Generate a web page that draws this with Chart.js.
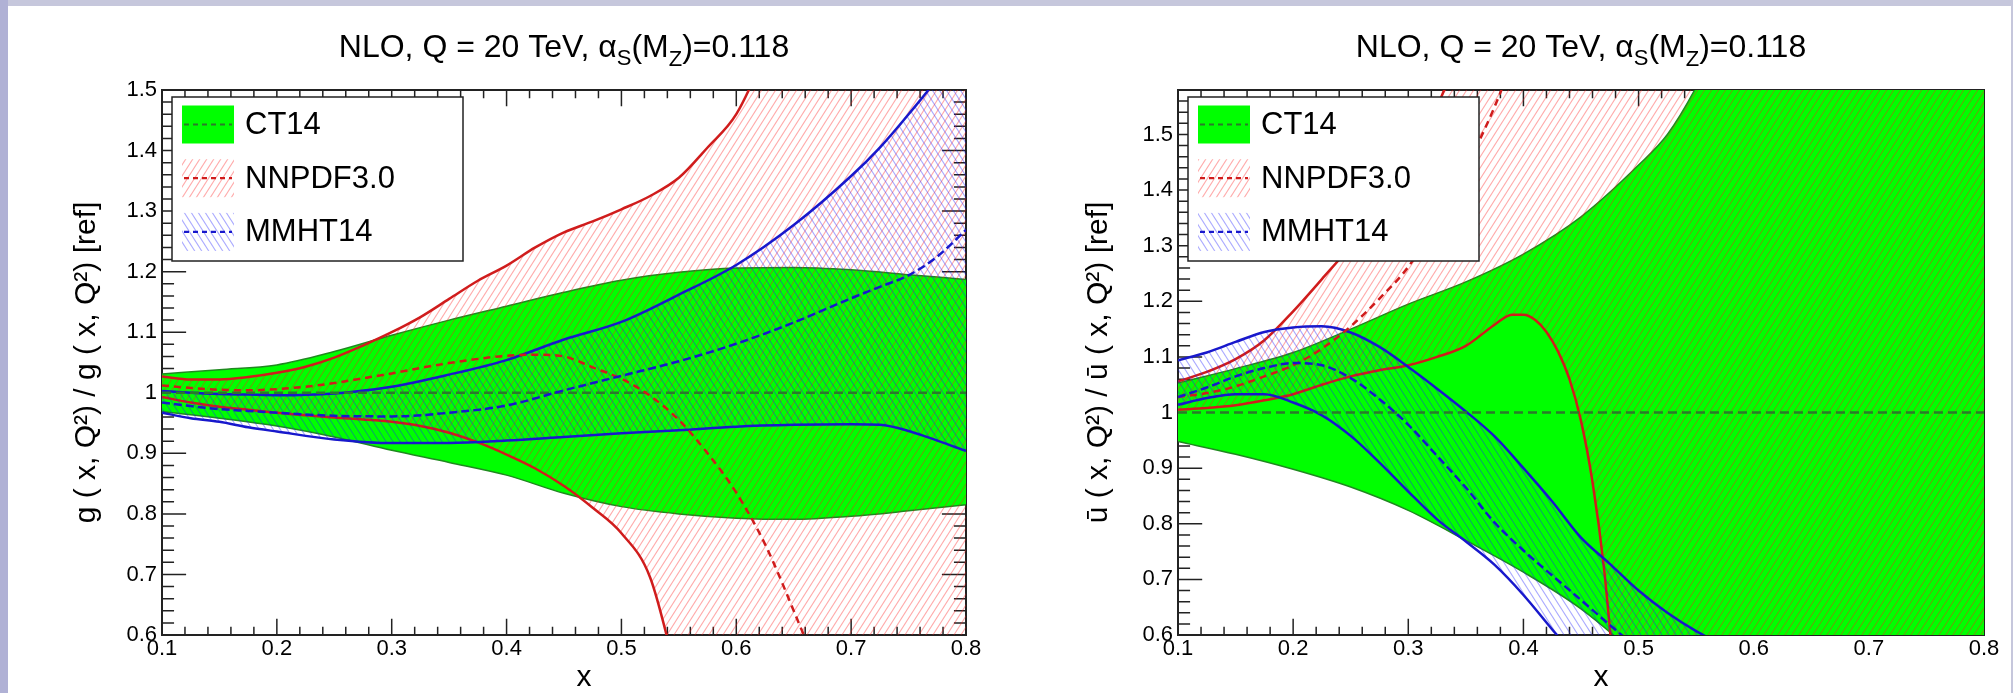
<!DOCTYPE html>
<html>
<head>
<meta charset="utf-8">
<script src="https://cdn.jsdelivr.net/npm/chart.js@4.4.1/dist/chart.umd.min.js"></script>
<style>
  html, body { margin: 0; padding: 0; background: #fff; }
  body { width: 2013px; height: 693px; position: relative; overflow: hidden; }
  .panel { position: absolute; top: 0; }
  .edge { position: absolute; }
</style>
</head>
<body>
<canvas id="gluon" class="panel" style="left:0px" width="1006" height="693"></canvas>
<canvas id="ubar" class="panel" style="left:1006px" width="1007" height="693"></canvas>
<div class="edge" style="left:0;top:0;width:2013px;height:6px;background:#c6c7dc"></div>
<div class="edge" style="left:0;top:0;width:8px;height:693px;background:#b0b1d5"></div>
<div class="edge" style="left:2011px;top:0;width:2px;height:693px;background:#c6c7dc"></div>
<script>
// ---- values ----
const pdfNames = ['CT14', 'NNPDF3.0', 'MMHT14'];
const xTicks = [0.1, 0.2, 0.3, 0.4, 0.5, 0.6, 0.7, 0.8];
const gYTicks = [0.6, 0.7, 0.8, 0.9, 1.0, 1.1, 1.2, 1.3, 1.4, 1.5];
const uYTicks = [0.6, 0.7, 0.8, 0.9, 1.0, 1.1, 1.2, 1.3, 1.4, 1.5];

// gluon: g(x,Q2)/g(x,Q2)[ref]
const gCtX   = [0.1, 0.15, 0.2, 0.25, 0.3, 0.35, 0.4, 0.45, 0.5, 0.55, 0.6, 0.65, 0.7, 0.75, 0.8];
const gCtUp  = [1.031, 1.038, 1.046, 1.068, 1.095, 1.120, 1.143, 1.166, 1.186, 1.199, 1.206, 1.207, 1.203, 1.195, 1.187];
const gCtLo  = [0.969, 0.958, 0.945, 0.927, 0.905, 0.885, 0.864, 0.834, 0.812, 0.800, 0.793, 0.791, 0.796, 0.805, 0.815];
const gCtMid = [1, 1, 1, 1, 1, 1, 1, 1, 1, 1, 1, 1, 1, 1, 1];

const gNnX   = [0.1, 0.125, 0.15, 0.175, 0.2, 0.225, 0.25, 0.275, 0.3, 0.325, 0.35, 0.375, 0.4, 0.425, 0.45, 0.475, 0.5, 0.525, 0.55, 0.575, 0.6, 0.625, 0.65, 0.7, 0.75, 0.8];
const gNnUp  = [1.027, 1.022, 1.022, 1.026, 1.033, 1.043, 1.058, 1.078, 1.100, 1.125, 1.155, 1.185, 1.210, 1.240, 1.265, 1.283, 1.303, 1.325, 1.355, 1.405, 1.460, 1.560, 1.680, 1.950, 2.300, 2.700];
const gNnLo  = [0.993, 0.984, 0.977, 0.972, 0.967, 0.963, 0.959, 0.956, 0.952, 0.945, 0.934, 0.918, 0.898, 0.875, 0.846, 0.810, 0.768, 0.695, 0.520, 0.350, 0.150, 0.000, -0.200, -0.500, -0.900, -1.300];
const gNnMid = [1.012, 1.008, 1.005, 1.004, 1.006, 1.010, 1.016, 1.024, 1.032, 1.041, 1.049, 1.056, 1.061, 1.063, 1.060, 1.042, 1.023, 0.995, 0.955, 0.900, 0.835, 0.750, 0.640, 0.400, 0.100, -0.250];

const gMmX   = [0.1, 0.125, 0.15, 0.175, 0.2, 0.25, 0.3, 0.35, 0.4, 0.45, 0.5, 0.55, 0.6, 0.65, 0.7, 0.725, 0.75, 0.775, 0.8];
const gMmUp  = [1.003, 1.000, 0.998, 0.997, 0.996, 0.999, 1.010, 1.030, 1.054, 1.088, 1.117, 1.162, 1.211, 1.277, 1.358, 1.405, 1.460, 1.520, 1.600];
const gMmLo  = [0.967, 0.958, 0.952, 0.943, 0.936, 0.923, 0.917, 0.917, 0.921, 0.927, 0.933, 0.938, 0.944, 0.947, 0.948, 0.947, 0.937, 0.921, 0.904];
const gMmMid = [0.984, 0.978, 0.973, 0.970, 0.967, 0.962, 0.961, 0.967, 0.979, 1.004, 1.028, 1.052, 1.081, 1.116, 1.156, 1.175, 1.194, 1.225, 1.269];

// anti-up quark: ubar(x,Q2)/ubar(x,Q2)[ref]
const uCtX   = [0.1, 0.15, 0.2, 0.25, 0.3, 0.35, 0.4, 0.45, 0.5, 0.525, 0.55, 0.6, 0.7, 0.8];
const uCtUp  = [1.053, 1.079, 1.108, 1.150, 1.195, 1.235, 1.285, 1.352, 1.445, 1.500, 1.585, 1.800, 2.400, 3.200];
const uCtLo  = [0.948, 0.925, 0.898, 0.866, 0.824, 0.770, 0.713, 0.647, 0.560, 0.510, 0.450, 0.300, -0.100, -0.500];
const uCtMid = [1, 1, 1, 1, 1, 1, 1, 1, 1, 1, 1, 1, 1, 1];

const uNnX   = [0.1, 0.125, 0.15, 0.175, 0.2, 0.225, 0.25, 0.275, 0.3, 0.325, 0.35, 0.375, 0.39, 0.4, 0.41, 0.42, 0.43, 0.44, 0.45, 0.46, 0.47, 0.48, 0.5, 0.6, 0.7, 0.8];
const uNnUp  = [1.056, 1.073, 1.096, 1.130, 1.182, 1.240, 1.300, 1.370, 1.450, 1.550, 1.680, 1.820, 1.920, 2.000, 2.080, 2.160, 2.240, 2.320, 2.400, 2.480, 2.560, 2.640, 2.800, 3.600, 4.400, 5.200];
const uNnLo  = [1.005, 1.008, 1.013, 1.022, 1.033, 1.050, 1.065, 1.076, 1.085, 1.100, 1.120, 1.158, 1.176, 1.176, 1.167, 1.145, 1.110, 1.060, 0.985, 0.875, 0.720, 0.500, 0.100, -0.900, -1.600, -2.200];
const uNnMid = [1.028, 1.035, 1.047, 1.065, 1.085, 1.115, 1.155, 1.205, 1.262, 1.345, 1.440, 1.550, 1.630, 1.690, 1.760, 1.830, 1.900, 1.970, 2.040, 2.110, 2.180, 2.250, 2.400, 3.200, 4.000, 4.800];

const uMmX   = [0.1, 0.125, 0.15, 0.175, 0.2, 0.225, 0.25, 0.275, 0.3, 0.325, 0.35, 0.375, 0.4, 0.425, 0.45, 0.475, 0.5, 0.525, 0.55, 0.575, 0.6, 0.7, 0.8];
const uMmUp  = [1.094, 1.108, 1.127, 1.145, 1.153, 1.155, 1.144, 1.118, 1.082, 1.043, 1.002, 0.957, 0.900, 0.840, 0.775, 0.728, 0.680, 0.640, 0.607, 0.580, 0.555, 0.450, 0.350];
const uMmLo  = [1.014, 1.026, 1.033, 1.033, 1.018, 0.995, 0.958, 0.910, 0.858, 0.808, 0.768, 0.726, 0.672, 0.610, 0.550, 0.490, 0.430, 0.370, 0.310, 0.250, 0.200, 0.000, -0.200];
const uMmMid = [1.028, 1.045, 1.065, 1.080, 1.089, 1.085, 1.062, 1.024, 0.978, 0.922, 0.865, 0.802, 0.752, 0.707, 0.663, 0.618, 0.575, 0.535, 0.495, 0.455, 0.420, 0.300, 0.200];

// ---- styling ----
const FONT = "'Liberation Sans', Arial, Helvetica, sans-serif";
Chart.defaults.font.family = FONT;
Chart.defaults.color = '#000';

const GREEN = '#00ff00', GREEN_EDGE = '#1f8a1f', GREEN_MID = '#2b7a2b';
const RED = '#d01c1c', BLUE = '#1818cc';

function hatch(color, dir) {
    const w = 7, h = 11;
    const c = document.createElement('canvas');
    c.width = w; c.height = h;
    const g = c.getContext('2d');
    g.strokeStyle = color;
    g.lineWidth = 1.1;
    for (let k = -1; k <= 1; k++) {
        g.beginPath();
        if (dir > 0) { g.moveTo(k * w - 1, h + 1.57); g.lineTo((k + 1) * w + 1, -1.57); }
        else { g.moveTo(k * w - 1, -1.57); g.lineTo((k + 1) * w + 1, h + 1.57); }
        g.stroke();
    }
    return g.createPattern(c, 'repeat');
}
const redHatch = hatch('rgba(255,30,30,0.38)', 1);
const blueHatch = hatch('rgba(30,30,255,0.38)', -1);
const legendStyles = [
    { fill: GREEN, line: GREEN_MID, dash: [5, 4] },
    { fill: redHatch, line: RED, dash: [5, 4] },
    { fill: blueHatch, line: BLUE, dash: [5, 4] },
];

const pts = (xs, ys) => xs.map((x, i) => ({ x, y: ys[i] }));

function band(xs, up, lo, edge, width, fillStyle, order) {
    return [
        { data: pts(xs, up), borderColor: edge, borderWidth: width, fill: false, order, clip: 0 },
        { data: pts(xs, lo), borderColor: edge, borderWidth: width, fill: '-1', backgroundColor: fillStyle, order, clip: 0 },
    ];
}
function centre(xs, ys, color, dash, order) {
    return { data: pts(xs, ys), borderColor: color, borderWidth: 2.5, borderDash: dash, fill: false, order, clip: 0 };
}

// frame + inward ROOT-style ticks, drawn under the bands
const rootFrame = {
    id: 'rootFrame',
    beforeDatasetsDraw(chart) {
        const { ctx, chartArea: a, scales: { x, y } } = chart;
        const majX = (a.bottom - a.top) * 0.03, majY = (a.right - a.left) * 0.03;
        ctx.save();
        ctx.strokeStyle = '#222';
        ctx.lineWidth = 1.5;
        ctx.beginPath();
        const nx = Math.round((x.max - x.min) / 0.02);
        for (let i = 0; i <= nx; i++) {
            const v = x.min + i * 0.02;
            const px = x.getPixelForValue(v);
            const len = i % 5 === 0 ? majX : majX / 2;
            ctx.moveTo(px, a.bottom); ctx.lineTo(px, a.bottom - len);
            ctx.moveTo(px, a.top); ctx.lineTo(px, a.top + len);
        }
        const ny = Math.floor((y.max - y.min) / 0.02 + 1e-6);
        for (let i = 0; i <= ny; i++) {
            const v = y.min + i * 0.02;
            const py = y.getPixelForValue(v);
            const len = i % 5 === 0 ? majY : majY / 2;
            ctx.moveTo(a.left, py); ctx.lineTo(a.left + len, py);
            ctx.moveTo(a.right, py); ctx.lineTo(a.right - len, py);
        }
        ctx.stroke();
        ctx.lineWidth = 2;
        ctx.strokeRect(a.left, a.top, a.right - a.left, a.bottom - a.top);
        ctx.restore();
    }
};

// title with sub-scripts, x title, legend box
const rootDecor = {
    id: 'rootDecor',
    afterDraw(chart, args, opts) {
        const { ctx, chartArea: a } = chart;
        ctx.save();
        // title
        const parts = [
            { t: 'NLO, Q = 20 TeV, ', s: 32 },
            { t: '\u03B1', s: 32 },
            { t: 'S', s: 22, dy: 8 },
            { t: '(M', s: 32 },
            { t: 'Z', s: 22, dy: 9 },
            { t: ')=0.118', s: 32 },
        ];
        let total = 0;
        parts.forEach(p => { ctx.font = `${p.s}px ${FONT}`; p.w = ctx.measureText(p.t).width; total += p.w; });
        let tx = (a.left + a.right) / 2 - total / 2;
        ctx.fillStyle = '#000';
        ctx.textAlign = 'left';
        ctx.textBaseline = 'alphabetic';
        parts.forEach(p => { ctx.font = `${p.s}px ${FONT}`; ctx.fillText(p.t, tx, 57 + (p.dy || 0)); tx += p.w; });

        // x axis title
        ctx.font = `30px ${FONT}`;
        ctx.textAlign = 'center';
        ctx.textBaseline = 'middle';
        ctx.fillText('x', (a.left + a.right) / 2 + 20, 678);

        // legend
        const bx = a.left + 10, by = 97, bw = 291, bh = 164;
        ctx.fillStyle = '#fff';
        ctx.fillRect(bx, by, bw, bh);
        ctx.strokeStyle = '#222';
        ctx.lineWidth = 1.5;
        ctx.strokeRect(bx, by, bw, bh);
        pdfNames.forEach((name, i) => {
            const st = legendStyles[i];
            const cy = by + 27.5 + i * 53.7;
            ctx.fillStyle = st.fill;
            ctx.fillRect(bx + 10, cy - 19, 52, 38);
            ctx.beginPath();
            ctx.setLineDash(st.dash);
            ctx.strokeStyle = st.line;
            ctx.lineWidth = 2.2;
            ctx.moveTo(bx + 12, cy); ctx.lineTo(bx + 60, cy);
            ctx.stroke();
            ctx.setLineDash([]);
            ctx.fillStyle = '#000';
            ctx.font = `31px ${FONT}`;
            ctx.textAlign = 'left';
            ctx.textBaseline = 'middle';
            ctx.fillText(name, bx + 73, cy + 1);
        });
        ctx.restore();
    }
};

const fmt = v => String(+(+v).toFixed(2));

function makePanel(id, o) {
    const canvas = document.getElementById(id);
    const W = canvas.width, padL = 50;
    return new Chart(canvas, {
        type: 'line',
        data: {
            datasets: [
                ...band(o.ct.x, o.ct.up, o.ct.lo, GREEN_EDGE, 1.5, GREEN, 9),
                ...band(o.nn.x, o.nn.up, o.nn.lo, RED, 2.5, redHatch, 8),
                ...band(o.mm.x, o.mm.up, o.mm.lo, BLUE, 2.5, blueHatch, 7),
                centre(o.ct.x, o.ct.mid, GREEN_MID, [9, 5], 3),
                centre(o.nn.x, o.nn.mid, RED, [7, 5], 2),
                centre(o.mm.x, o.mm.mid, BLUE, [8, 4], 1),
            ]
        },
        options: {
            responsive: false,
            animation: false,
            devicePixelRatio: 1,
            events: [],
            layout: { padding: { left: padL, right: W - o.frameRight, top: 90, bottom: 0 } },
            elements: {
                point: { radius: 0, hitRadius: 0 },
                line: { cubicInterpolationMode: 'monotone', capBezierPoints: false }
            },
            plugins: { legend: { display: false }, tooltip: { enabled: false } },
            scales: {
                x: {
                    type: 'linear', min: 0.1, max: 0.8,
                    afterBuildTicks: s => { s.ticks = xTicks.map(v => ({ value: v })); },
                    afterFit: s => { s.height = 58; },
                    grid: { display: false, drawTicks: false },
                    border: { display: false },
                    ticks: { padding: 1, maxRotation: 0, autoSkip: false, font: { size: 22 }, color: '#000', callback: fmt }
                },
                y: {
                    type: 'linear', min: 0.6, max: o.yMax,
                    afterBuildTicks: s => { s.ticks = o.yTicks.map(v => ({ value: v })); },
                    afterFit: s => { s.width = o.frameLeft - padL; },
                    grid: { display: false, drawTicks: false },
                    border: { display: false },
                    ticks: { padding: 5, font: { size: 22 }, color: '#000', callback: fmt },
                    title: { display: true, text: o.yTitle, color: '#000', font: { size: 30 }, padding: { top: o.yTitlePad, bottom: 0 } }
                }
            }
        },
        plugins: [rootFrame, rootDecor]
    });
}

makePanel('gluon', {
    frameLeft: 162, frameRight: 966, yMax: 1.5, yTicks: gYTicks, yTitlePad: 19,
    yTitle: 'g ( x, Q\u00B2) / g ( x, Q\u00B2) [ref]',
    ct: { x: gCtX, up: gCtUp, lo: gCtLo, mid: gCtMid },
    nn: { x: gNnX, up: gNnUp, lo: gNnLo, mid: gNnMid },
    mm: { x: gMmX, up: gMmUp, lo: gMmLo, mid: gMmMid },
});
makePanel('ubar', {
    frameLeft: 172, frameRight: 978, yMax: 1.58, yTicks: uYTicks, yTitlePad: 25,
    yTitle: '\u016B ( x, Q\u00B2) / \u016B ( x, Q\u00B2) [ref]',
    ct: { x: uCtX, up: uCtUp, lo: uCtLo, mid: uCtMid },
    nn: { x: uNnX, up: uNnUp, lo: uNnLo, mid: uNnMid },
    mm: { x: uMmX, up: uMmUp, lo: uMmLo, mid: uMmMid },
});
</script>
</body>
</html>
